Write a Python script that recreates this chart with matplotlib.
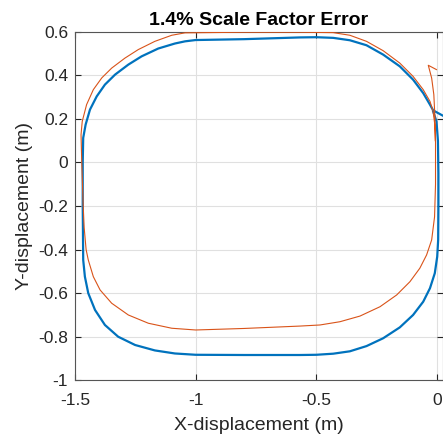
# trajectory plot: reference path vs path with 1.4% scale factor error
import matplotlib
matplotlib.use('Agg')
import matplotlib.pyplot as plt

# reference trajectory (blue)
ref_x = [-0.016, -0.002, 0.004, 0.006, 0.006, 0.005, 0.001, -0.009, -0.029, -0.057, -0.099,
         -0.154, -0.223, -0.292, -0.361, -0.430, -0.5, -0.568, -0.8, -1.0, -1.086, -1.169, -1.251,
         -1.321, -1.376, -1.417, -1.445, -1.459, -1.466, -1.468, -1.468, -1.466, -1.456,
         -1.438, -1.410, -1.376, -1.334, -1.279, -1.224, -1.155, -1.086, -1.044, -1.0, -0.8,
         -0.568, -0.5, -0.430, -0.361, -0.292, -0.223, -0.154, -0.099, -0.057, -0.029, -0.016,
         0.0, 0.025]
ref_y = [0.235, 0.189, 0.1, -0.05, -0.2, -0.356, -0.433, -0.509, -0.578, -0.640, -0.701,
         -0.758, -0.808, -0.844, -0.868, -0.879, -0.884, -0.885, -0.885, -0.884, -0.878, -0.864, -0.839,
         -0.801, -0.747, -0.678, -0.601, -0.525, -0.448, -0.2, 0.0, 0.113, 0.174,
         0.243, 0.304, 0.358, 0.404, 0.450, 0.488, 0.524, 0.547, 0.557, 0.563, 0.567,
         0.575, 0.576, 0.573, 0.562, 0.539, 0.496, 0.442, 0.381, 0.319, 0.266, 0.240,
         0.230, 0.215]

# trajectory with scale factor error (orange)
err_x = [-0.002, -0.036, -0.022, -0.013, -0.009, -0.006, -0.006, -0.010, -0.022, -0.043,
         -0.071, -0.112, -0.167, -0.236, -0.319, -0.402, -0.485, -0.568, -0.8, -1.0, -1.099,
         -1.196, -1.279, -1.348, -1.396, -1.424, -1.445, -1.454, -1.462, -1.466, -1.472,
         -1.475, -1.470, -1.452, -1.424, -1.389, -1.348, -1.293, -1.238, -1.169, -1.099,
         -1.044, -0.8, -0.568, -0.430, -0.361, -0.292, -0.223, -0.154, -0.099, -0.057,
         -0.029, -0.016, -0.009, -0.007]
err_y = [0.427, 0.447, 0.388, 0.312, 0.22, 0.1, -0.1, -0.25, -0.356, -0.425,
         -0.486, -0.548, -0.609, -0.663, -0.706, -0.732, -0.747, -0.752, -0.763, -0.770, -0.762,
         -0.739, -0.701, -0.647, -0.586, -0.525, -0.448, -0.4, -0.3, -0.2, 0.0,
         0.128, 0.189, 0.266, 0.335, 0.389, 0.434, 0.480, 0.519, 0.557, 0.585,
         0.596, 0.599, 0.599, 0.597, 0.585, 0.557, 0.514, 0.457, 0.396, 0.335,
         0.281, 0.235, 0.174, 0.1]

xticks = [-1.5, -1, -0.5, 0]
xtick_labels = ['-1.5', '-1', '-0.5', '0']
yticks = [-1, -0.8, -0.6, -0.4, -0.2, 0, 0.2, 0.4, 0.6]
ytick_labels = ['-1', '-0.8', '-0.6', '-0.4', '-0.2', '0', '0.2', '0.4', '0.6']

plt.rcParams['font.family'] = ['Liberation Sans', 'DejaVu Sans']
plt.rcParams['axes.unicode_minus'] = False

fig = plt.figure(figsize=(4.43, 4.37), dpi=100)
ax = fig.add_axes([0.1693, 0.1304, 0.8307, 0.7964])

ax.plot(ref_x, ref_y, color='#0072BD', linewidth=1.6, zorder=3, solid_joinstyle='round')
ax.plot(err_x, err_y, color='#D95319', linewidth=0.8, zorder=4, solid_joinstyle='round')

ax.set_xlim(-1.5, 0.025)
ax.set_ylim(-1, 0.6)
ax.set_xticks(xticks)
ax.set_xticklabels(xtick_labels)
ax.set_yticks(yticks)
ax.set_yticklabels(ytick_labels)
ax.tick_params(direction='in', top=True, right=True, labelsize=12.5, length=4,
               color='#262626', labelcolor='#262626')
ax.tick_params(axis='x', pad=9)
ax.tick_params(axis='y', pad=5)
ax.grid(True, color='#e0e0e0', linewidth=0.8)
ax.set_axisbelow(True)
for s in ax.spines.values():
    s.set_color('#555555')
    s.set_linewidth(0.8)

ax.set_xlabel('X-displacement (m)', fontsize=14, color='#262626', labelpad=7)
ax.set_ylabel('Y-displacement (m)', fontsize=14, color='#262626', labelpad=4)
ax.set_title('1.4% Scale Factor Error', fontsize=14, fontweight='bold', pad=5)

plt.savefig('out.png', dpi=100)
